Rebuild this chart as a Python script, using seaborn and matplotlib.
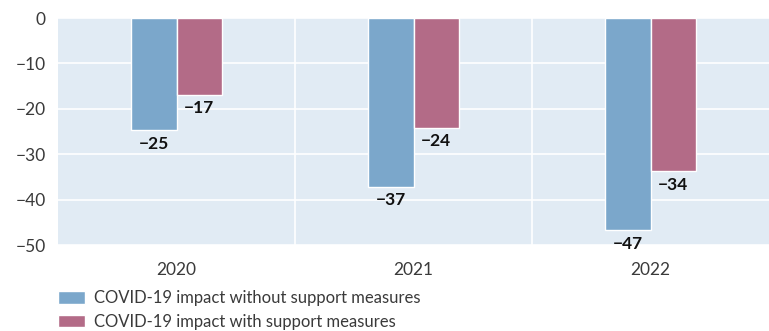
import matplotlib
matplotlib.use("Agg")
import matplotlib.pyplot as plt
import seaborn as sns
import pandas as pd

years = ["2020", "2021", "2022"]
without_support = [-24.7, -37.2, -46.7]
with_support = [-16.9, -24.2, -33.7]
series_names = ["COVID-19 impact without support measures",
                "COVID-19 impact with support measures"]
yticks = [0, -10, -20, -30, -40, -50]

df = pd.DataFrame({
    "year": years * 2,
    "value": without_support + with_support,
    "series": [series_names[0]] * 3 + [series_names[1]] * 3,
})

sns.set_theme(style="white")
plt.rcParams["font.family"] = ["Lato", "DejaVu Sans"]

fig = plt.figure(figsize=(7.69, 3.31), dpi=100)
ax = fig.add_axes([58 / 769, 1 - 245 / 331, 1 - 58 / 769, (245 - 18) / 331])
ax.set_facecolor("#E1EBF4")

palette = ["#7BA7CB", "#B36B87"]
sns.barplot(data=df, x="year", y="value", hue="series", palette=palette,
            width=0.38, saturation=1, ax=ax, legend=True)

ax.set_ylim(-50, 0)
ax.set_xlim(-0.5, 2.5)
ax.set_yticks(yticks)
ax.set_yticklabels(["0" if v == 0 else "\u2212" + str(abs(v)) for v in yticks])
ax.set_xticks([0.5, 1.5], minor=True)
ax.grid(axis="y", which="major", color="white", linewidth=1.2)
ax.grid(axis="x", which="minor", color="white", linewidth=1.2)
ax.grid(axis="x", which="major", visible=False)
ax.set_axisbelow(True)
for s in ax.spines.values():
    s.set_visible(False)
ax.tick_params(axis="both", which="both", length=0, labelsize=12.5, colors="#3a3a3a", pad=9)
ax.tick_params(axis="x", pad=12)
ax.set_xlabel("")
ax.set_ylabel("")

for cont in ax.containers:
    labels = ["\u2212" + str(int(round(abs(b.get_height())))) for b in cont]
    ax.bar_label(cont, labels=labels, padding=4, fontsize=12.5, fontweight="bold", color="#111111")

handles, labs = ax.get_legend_handles_labels()
ax.legend(handles, labs, loc="upper left", bbox_to_anchor=(0, -0.2), frameon=False,
          fontsize=12, handlelength=1.6, handleheight=0.75, labelspacing=0.45,
          handletextpad=0.55, borderaxespad=0, borderpad=0, labelcolor="#3a3a3a")

fig.savefig("out.png", dpi=100)
